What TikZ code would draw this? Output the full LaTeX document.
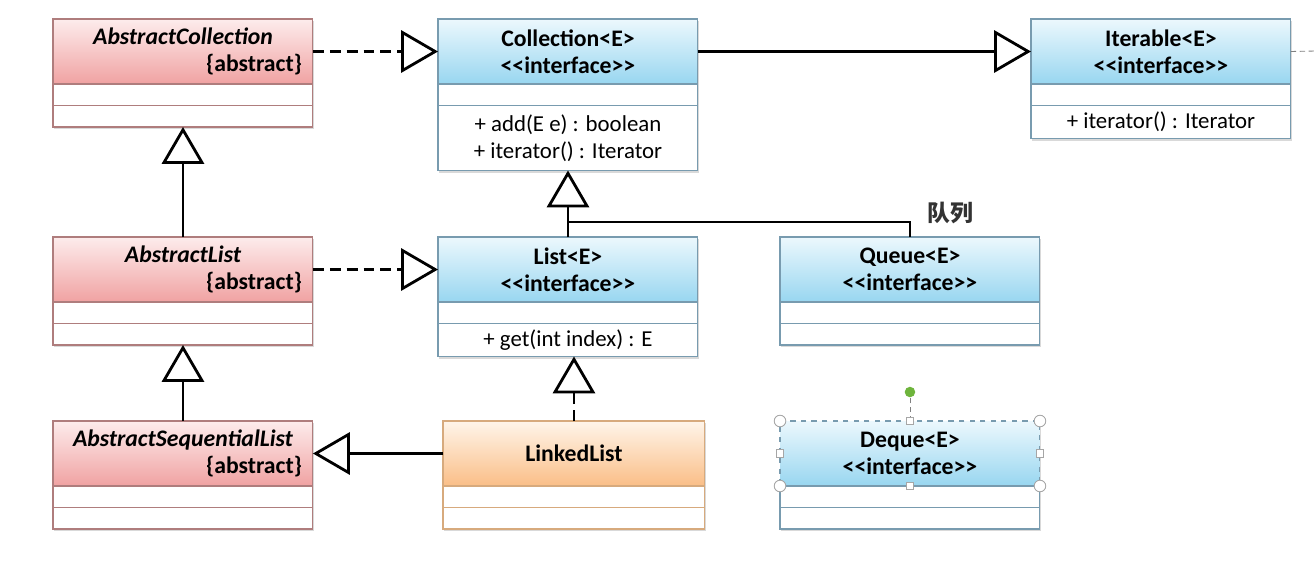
\documentclass[tikz,border=0pt]{standalone}
\usepackage{fontspec}
\setmainfont{Carlito}
\newfontfamily\cjk{Noto Sans CJK SC}
\usetikzlibrary{arrows.meta,positioning,shadows}
\definecolor{pinkhi}{RGB}{253,236,236}
\definecolor{pinklo}{RGB}{240,162,162}
\definecolor{bluehi}{RGB}{236,248,253}
\definecolor{bluelo}{RGB}{152,214,240}
\definecolor{orghi}{RGB}{255,245,234}
\definecolor{orglo}{RGB}{250,190,135}
\definecolor{pinkline}{RGB}{175,125,125}
\definecolor{blueline}{RGB}{120,155,175}
\definecolor{orgline}{RGB}{215,170,125}
\definecolor{rotgreen}{RGB}{110,180,60}
\newcommand\clsfont{\fontsize{13pt}{15.3pt}\selectfont}
\newcommand\ifc{<\kern0pt<interface>\kern0pt>}
\tikzset{cls/.style={draw, line width=0.6pt, inner sep=0pt, outer sep=0pt, minimum width=5.2cm,
    drop shadow={shadow xshift=0.7pt, shadow yshift=-1.2pt, opacity=0.3}},
  hdr/.style={cls, anchor=north west, minimum height=1.3cm, inner xsep=0.22cm,
    text width=4.76cm, align=center, font=\fontsize{13.5pt}{15.3pt}\selectfont\bfseries},
  abshdr/.style={hdr, draw=pinkline, top color=pinkhi, bottom color=pinklo, align=right},
  ifhdr/.style={hdr, draw=blueline, top color=bluehi, bottom color=bluelo},
  clshdr/.style={hdr, draw=orgline, top color=orghi, bottom color=orglo},
  cmp/.style={cls, fill=white, align=center, minimum height=0.43cm, below=0pt of #1},
  link/.style={line width=1.6pt},
  gen/.style={link, -{Triangle[open, length=21pt, width=24pt]}},
  real/.style={gen, dash pattern=on 6.2pt off 3.4pt},
  grip/.style={draw=gray!70, fill=white, line width=0.5pt}}

\begin{document}
\begin{tikzpicture}[x=0.02cm, y=-0.02cm, every node/.style={font=\clsfont}]
  \useasboundingbox (0,0) rectangle (1315,566);
  % abstract classes
  \node[abshdr] (acoll) at (53,19) {\makebox[4.76cm]{\itshape AbstractCollection}\\\{abstract\}};
  \node[cmp=acoll, draw=pinkline] (acoll1) {};
  \node[cmp=acoll1, draw=pinkline] (acoll2) {};
  \node[abshdr] (alist) at (53,237) {\makebox[4.76cm]{\itshape AbstractList}\\\{abstract\}};
  \node[cmp=alist, draw=pinkline] (alist1) {};
  \node[cmp=alist1, draw=pinkline] (alist2) {};
  \node[abshdr] (aseq) at (53,421) {\makebox[4.76cm]{\itshape AbstractSequentialList}\\\{abstract\}};
  \node[cmp=aseq, draw=pinkline] (aseq1) {};
  \node[cmp=aseq1, draw=pinkline] (aseq2) {};
  % interfaces
  \node[ifhdr] (coll) at (438,19) {Collection<E>\\\ifc};
  \node[cmp=coll, draw=blueline] (coll1) {};
  \node[cmp=coll1, draw=blueline, minimum height=1.3cm] (coll2) {+ add(E e) : boolean\\+ iterator() : Iterator};
  \node[ifhdr] (iter) at (1031,19) {Iterable<E>\\\ifc};
  \node[cmp=iter, draw=blueline] (iter1) {};
  \node[cmp=iter1, draw=blueline, minimum height=0.66cm] (iter2) {+ iterator() : Iterator};
  \node[ifhdr] (list) at (438,237) {List<E>\\\ifc};
  \node[cmp=list, draw=blueline] (list1) {};
  \node[cmp=list1, draw=blueline, minimum height=0.66cm] (list2) {+ get(int index) : E};
  \node[ifhdr] (queue) at (780,237) {Queue<E>\\\ifc};
  \node[cmp=queue, draw=blueline] (queue1) {};
  \node[cmp=queue1, draw=blueline] (queue2) {};
  \node[ifhdr, dashed] (deque) at (780,421) {Deque<E>\\\ifc};
  \node[cmp=deque, draw=blueline] (deque1) {};
  \node[cmp=deque1, draw=blueline] (deque2) {};
  % concrete class
  \node[clshdr, minimum width=5.24cm, text width=4.8cm] (linked) at (443,421) {LinkedList};
  \node[cmp=linked, draw=orgline, minimum width=5.24cm] (linked1) {};
  \node[cmp=linked1, draw=orgline, minimum width=5.24cm] (linked2) {};
  % relations
  \draw[real] (acoll.east) -- (coll.west);
  \draw[gen] (coll.east) -- (iter.west);
  \draw[gen] (alist.north) -- (acoll2.south);
  \draw[real] (alist.east) -- (list.west);
  \draw[gen] (aseq.north) -- (alist2.south);
  \draw[gen] (linked.west) -- (aseq.east);
  \draw[real] (linked.north) -- (linked.north |- list2.south);
  \draw[gen] (list.north) -- (coll2.south);
  \coordinate (jn) at ([yshift=0.3cm]list.north);
  \draw[link] (queue.north) |- (jn);
  \node[font=\cjk\bfseries\fontsize{13pt}{14pt}\selectfont, text=black!80] (qlabel) at (950,213) {队列};
  \coordinate (rim) at (1315,51);
  \draw[gray, densely dashed, line width=0.5pt] (iter.east) -- (rim);
  % selection handles on Deque
  \coordinate (rot) at ([yshift=0.58cm]deque.north);
  \draw[gray, densely dashed, line width=0.5pt] (deque.north) -- (rot);
  \fill[rotgreen] (rot) circle (3pt);
  \foreach \c in {north west, north east, south west, south east}
    \draw[grip] (deque.\c) circle (3.3pt);
  \foreach \c in {north, south, west, east}
    \draw[grip] ([shift={(-2.2pt,-2.2pt)}]deque.\c) rectangle ([shift={(2.2pt,2.2pt)}]deque.\c);
\end{tikzpicture}
\end{document}
